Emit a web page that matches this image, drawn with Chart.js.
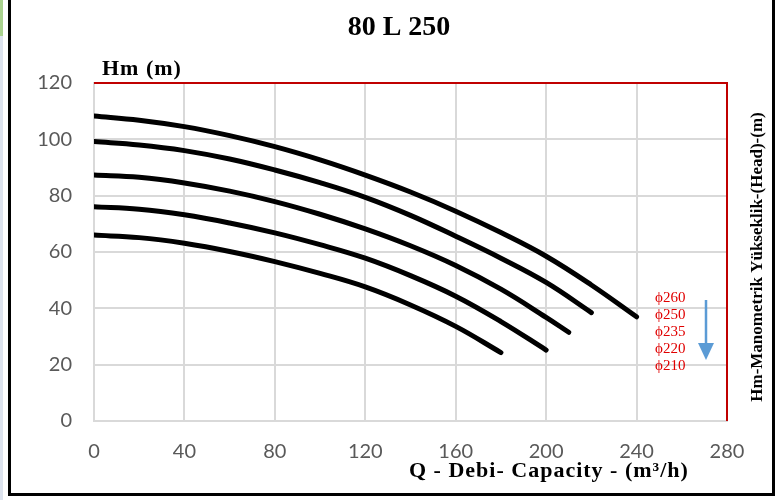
<!DOCTYPE html>
<html>
<head>
<meta charset="utf-8">
<script src="https://cdn.jsdelivr.net/npm/chart.js@4/dist/chart.umd.min.js"></script>
<style>
html,body{margin:0;padding:0;background:#fff;}
#wrap{position:relative;width:776px;height:500px;}
canvas{display:block;}
</style>
</head>
<body>
<div id="wrap"><canvas id="c" width="776" height="500"></canvas></div>
<script>
const chartTitle = "80 L 250";
const xTitle = "Q - Debi- Capacity - (m³/h)";
const yTitle = "Hm (m)";
const rightTitle = "Hm-Manometrik Yükseklik-(Head)-(m)";
const seriesNames = ["ϕ260", "ϕ250", "ϕ235", "ϕ220", "ϕ210"];

const q260 = [0, 20, 40, 60, 80, 100, 120, 140, 160, 180, 200, 220, 240];
const h260 = [108.3, 106.8, 104.5, 101.3, 97.4, 92.7, 87.3, 81.3, 74.5, 66.9, 58.5, 48.3, 37.0];
const q250 = [0, 20, 40, 60, 80, 100, 120, 140, 160, 180, 200, 220];
const h250 = [99.2, 98.0, 96.0, 93.0, 89.1, 84.6, 79.4, 73.0, 65.6, 57.8, 49.2, 38.5];
const q235 = [0, 20, 40, 60, 80, 100, 120, 140, 160, 180, 200, 210];
const h235 = [87.3, 86.5, 84.5, 81.6, 77.9, 73.4, 68.2, 62.2, 55.2, 46.8, 36.8, 31.5];
const q220 = [0, 20, 40, 60, 80, 100, 120, 140, 160, 180, 200];
const h220 = [76.1, 75.2, 73.2, 70.3, 66.8, 62.6, 57.8, 51.6, 44.3, 35.3, 25.2];
const q210 = [0, 20, 40, 60, 80, 100, 120, 140, 160, 180];
const h210 = [66.0, 65.1, 63.1, 60.2, 56.6, 52.4, 47.6, 41.2, 33.6, 24.3];

const xTicks = [0, 40, 80, 120, 160, 200, 240, 280];
const yTicks = [0, 20, 40, 60, 80, 100, 120];

function pts(q, h){ return q.map((v,i)=>({x:v, y:h[i]})); }
const allQ = [q260, q250, q235, q220, q210];
const allH = [h260, h250, h235, h220, h210];

const datasets = allQ.map((q,i)=>({
  label: seriesNames[i],
  data: pts(q, allH[i]),
  borderColor: '#000000',
  borderWidth: 5,
  pointRadius: 0,
  tension: 0.4,
  borderCapStyle: 'round',
  fill: false
}));

const decor = {
  id: 'decor',
  afterDraw(chart){
    const ctx = chart.ctx;
    const a = chart.chartArea;
    ctx.save();
    ctx.strokeStyle = '#c00000';
    ctx.lineWidth = 2;
    ctx.beginPath();
    ctx.moveTo(a.left, a.top);
    ctx.lineTo(a.right, a.top);
    ctx.lineTo(a.right, a.bottom);
    ctx.stroke();
    ctx.strokeStyle = '#000';
    ctx.lineWidth = 3;
    ctx.beginPath();
    ctx.moveTo(9.5, 0);
    ctx.lineTo(9.5, 494.5);
    ctx.lineTo(773.5, 494.5);
    ctx.lineTo(773.5, 0);
    ctx.stroke();
    ctx.fillStyle = '#a9d18e';
    ctx.fillRect(0, 0, 3, 36);
    ctx.fillStyle = '#dde3ee';
    ctx.fillRect(0, 36, 3, 464);
    ctx.fillStyle = '#000';
    ctx.textAlign = 'center';
    ctx.textBaseline = 'middle';
    ctx.font = 'bold 28px "Liberation Serif"';
    ctx.fillText(chartTitle, 399, 28);
    ctx.textAlign = 'left';
    ctx.letterSpacing = '1px';
    ctx.font = 'bold 22px "Liberation Serif"';
    ctx.fillText(yTitle, 102, 69);
    ctx.font = 'bold 22px "Liberation Serif"';
    ctx.fillText(xTitle, 409, 471);
    ctx.letterSpacing = '0px';
    ctx.save();
    ctx.translate(758, 257);
    ctx.rotate(-Math.PI/2);
    ctx.textAlign = 'center';
    ctx.font = 'bold 17px "Liberation Serif"';
    ctx.fillText(rightTitle, 0, 0);
    ctx.restore();
    ctx.fillStyle = '#e00000';
    ctx.textAlign = 'left';
    ctx.font = '15px "Liberation Serif"';
    seriesNames.forEach((s,i)=>{
      ctx.fillText(s, 655, 298 + i*17);
    });
    ctx.strokeStyle = '#5b9bd5';
    ctx.fillStyle = '#5b9bd5';
    ctx.lineWidth = 2.5;
    ctx.beginPath();
    ctx.moveTo(706, 300);
    ctx.lineTo(706, 346);
    ctx.stroke();
    ctx.beginPath();
    ctx.moveTo(698, 343);
    ctx.lineTo(714, 343);
    ctx.lineTo(706, 360);
    ctx.closePath();
    ctx.fill();
    ctx.restore();
  }
};

new Chart(document.getElementById('c'), {
  type: 'line',
  data: { datasets },
  options: {
    responsive: false,
    animation: false,
    layout: { padding: { top: 83, right: 49, bottom: 0, left: 0 } },
    plugins: { legend: { display: false }, tooltip: { enabled: false } },
    scales: {
      x: {
        type: 'linear', min: 0, max: 280,
        afterBuildTicks(s){ s.ticks = xTicks.map(v=>({value:v})); },
        afterFit(s){ s.height = 79; },
        grid: { color: '#d9d9d9', lineWidth: 2, drawTicks: false },
        border: { color: '#d9d9d9', width: 2 },
        ticks: { color: '#595959', font: { family: 'Lato', size: 20 }, padding: 19, maxRotation: 0 }
      },
      y: {
        min: 0, max: 120,
        afterBuildTicks(s){ s.ticks = yTicks.map(v=>({value:v})); },
        afterFit(s){ s.width = 94; },
        grid: { color: '#d9d9d9', lineWidth: 2, drawTicks: false },
        border: { color: '#d9d9d9', width: 2 },
        ticks: { color: '#595959', font: { family: 'Lato', size: 20 }, padding: 22 }
      }
    }
  },
  plugins: [decor]
});
</script>
</body>
</html>
